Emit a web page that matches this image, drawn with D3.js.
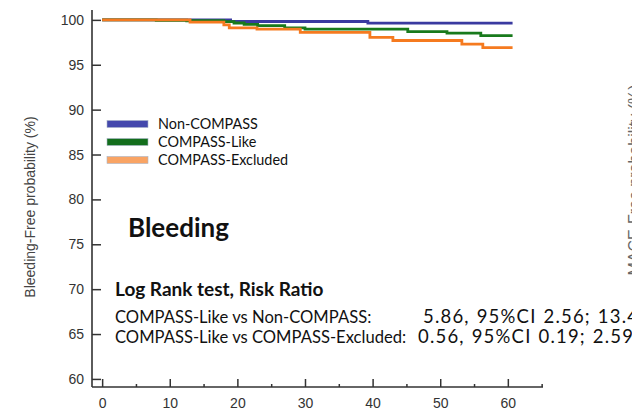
<!DOCTYPE html>
<html>
<head>
<meta charset="utf-8">
<script src="https://cdn.jsdelivr.net/npm/d3@7"></script>
<style>
  html, body { margin: 0; padding: 0; background: #fff; }
  svg { display: block; }
</style>
</head>
<body>
<svg id="chart" width="632" height="415"></svg>
<script>
// Kaplan-Meier step curves: follow-up time and bleeding-free probability (%)
const seriesNames = ["Non-COMPASS", "COMPASS-Like", "COMPASS-Excluded"];
const nonCompassTime  = [0, 19, 39.3, 60.7];
const nonCompassValue = [100, 99.82, 99.63, 99.63];
const likeTime  = [0, 8, 12.5, 18, 19.5, 21, 23, 27, 30, 45.2, 51, 56, 60.7];
const likeValue = [100, 99.96, 99.9, 99.8, 99.65, 99.5, 99.35, 99.1, 98.96, 98.7, 98.52, 98.25, 98.25];
const excludedTime  = [0, 13, 18, 18.8, 22.9, 29.3, 39.6, 43, 53.2, 56.3, 60.7];
const excludedValue = [100, 99.75, 99.45, 99.1, 98.98, 98.6, 98.05, 97.7, 97.3, 96.9, 96.9];

const xTicks = [0, 10, 20, 30, 40, 50, 60];
const xMinorTicks = [5, 15, 25, 35, 45, 55, 65];
const yTicks = [60, 65, 70, 75, 80, 85, 90, 95, 100];

const statsTitle = "Log Rank test, Risk Ratio";
const statsRows = [
  ["COMPASS-Like vs Non-COMPASS:", "5.86, 95%CI 2.56; 13.41"],
  ["COMPASS-Like vs COMPASS-Excluded:", "0.56, 95%CI 0.19; 2.59"]
];

const lineColors = ["#3a3aa0", "#187a1c", "#f57a1f"];
const swatchColors = ["#4448ac", "#136e1c", "#f9a464"];

const svg = d3.select("#chart");

const x = d3.scaleLinear().domain([-1.5, 65.2]).range([92, 543]);
const y = d3.scaleLinear().domain([59.1, 101.1]).range([387, 10]);

const axisColor = "#333";
const sans = "'Liberation Sans', Arial, sans-serif";
const body = "Lato, 'Open Sans', sans-serif";

// y axis: ticks point inward
const yAxisG = svg.append("g")
  .attr("transform", `translate(${x(-1.5)},0)`)
  .call(d3.axisLeft(y).tickValues(yTicks).tickSizeInner(-9).tickSizeOuter(0).tickPadding(8));
yAxisG.select(".domain").remove();
yAxisG.selectAll(".tick line").attr("stroke", axisColor).attr("stroke-width", 1.5);
yAxisG.selectAll(".tick text").attr("fill", "#333").style("font-family", sans).style("font-size", "14px");

// x axis: major and minor ticks, inward
const xAxisG = svg.append("g")
  .attr("transform", `translate(0,${y(59.1)})`)
  .call(d3.axisBottom(x).tickValues(xTicks).tickSizeInner(-8).tickSizeOuter(0).tickPadding(11));
xAxisG.select(".domain").remove();
xAxisG.selectAll(".tick line").attr("stroke", axisColor).attr("stroke-width", 1.5);
xAxisG.selectAll(".tick text").attr("fill", "#333").style("font-family", sans).style("font-size", "14px");

const xMinorG = svg.append("g")
  .attr("transform", `translate(0,${y(59.1)})`)
  .call(d3.axisBottom(x).tickValues(xMinorTicks).tickSizeInner(-3).tickSizeOuter(0).tickFormat(""));
xMinorG.select(".domain").remove();
xMinorG.selectAll(".tick line").attr("stroke", axisColor).attr("stroke-width", 1.5);

// axis lines
svg.append("line")
  .attr("x1", x(-1.5)).attr("x2", x(-1.5))
  .attr("y1", y(101.1)).attr("y2", y(59.1))
  .attr("stroke", axisColor).attr("stroke-width", 1.6);
svg.append("line")
  .attr("x1", x(-1.5)).attr("x2", x(65.2))
  .attr("y1", y(59.1)).attr("y2", y(59.1))
  .attr("stroke", axisColor).attr("stroke-width", 1.6);

// y axis title
svg.append("text")
  .attr("transform", `translate(35,207) rotate(-90)`)
  .attr("text-anchor", "middle")
  .attr("fill", "#444")
  .style("font-family", sans).style("font-size", "14px")
  .text("Bleeding-Free probability (%)");

// neighbouring panel's axis title, cut by the frame edge
svg.append("text")
  .attr("transform", `translate(640,180) rotate(-90)`)
  .attr("text-anchor", "middle")
  .attr("fill", "#666")
  .style("font-family", sans).style("font-size", "16px")
  .text("MACE-Free probability (%)");

// survival curves
const series = [
  { t: nonCompassTime, v: nonCompassValue },
  { t: likeTime, v: likeValue },
  { t: excludedTime, v: excludedValue }
];
const line = d3.line()
  .x(d => x(d[0]))
  .y(d => y(d[1]))
  .curve(d3.curveStepAfter);

series.forEach((s, i) => {
  svg.append("path")
    .datum(d3.zip(s.t, s.v))
    .attr("fill", "none")
    .attr("stroke", lineColors[i])
    .attr("stroke-width", 2.8)
    .attr("d", line);
});

// legend
const legend = svg.append("g");
const legendY = [124, 142, 160];
seriesNames.forEach((name, i) => {
  legend.append("rect")
    .attr("x", 107).attr("y", legendY[i] - 3.5)
    .attr("width", 41).attr("height", 7)
    .attr("fill", swatchColors[i])
    .attr("stroke", "#a9b4c8").attr("stroke-width", 0.6);
  legend.append("text")
    .attr("x", 158).attr("y", legendY[i])
    .attr("dy", "0.35em")
    .attr("fill", "#111")
    .style("font-family", body).style("font-size", "14.4px")
    .text(name);
});

// panel title
svg.append("text")
  .attr("x", 128).attr("y", 237)
  .attr("fill", "#111")
  .style("font-family", body).style("font-size", "26px").style("font-weight", "bold")
  .text("Bleeding");

// statistics block
svg.append("text")
  .attr("x", 115).attr("y", 296)
  .attr("fill", "#111")
  .style("font-family", body).style("font-size", "19px").style("font-weight", "bold")
  .text(statsTitle);

const rowY = [323, 343];
const valueX = [423, 418];
statsRows.forEach((row, i) => {
  svg.append("text")
    .attr("x", 115).attr("y", rowY[i])
    .attr("fill", "#111")
    .style("font-family", body).style("font-size", "16.6px")
    .text(row[0]);
  svg.append("text")
    .attr("x", valueX[i]).attr("y", rowY[i])
    .attr("fill", "#111")
    .style("font-family", body).style("font-size", "18.5px")
    .style("letter-spacing", "1.2px")
    .style("word-spacing", "1px")
    .text(row[1]);
});
</script>
</body>
</html>
